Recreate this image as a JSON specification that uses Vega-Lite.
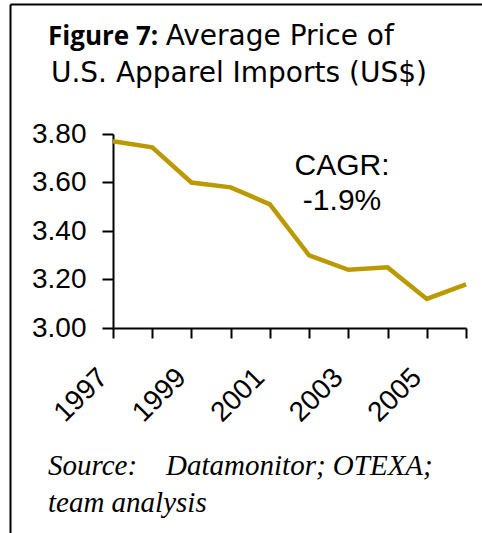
{
  "$schema": "https://vega.github.io/schema/vega-lite/v6.json",
  "width": 472,
  "height": 529,
  "padding": {"left": 10, "top": 4, "right": 0, "bottom": 0},
  "autosize": {"type": "none"},
  "background": "white",
  "config": {"view": {"stroke": null}},
  "layer": [
    {
      "data": {"values": [{"item": "title"}]},
      "layer": [
        {
          "mark": {"type": "text", "font": "Open Sans", "fontWeight": "bold", "fontSize": 26, "align": "left", "baseline": "alphabetic", "color": "black"},
          "encoding": {
            "x": {"datum": 8.05, "type": "quantitative", "scale": {"domain": [0, 100], "nice": false, "zero": false},
                  "axis": {"orient": "top", "offset": 0, "domain": true, "domainColor": "black", "domainWidth": 2, "ticks": false, "labels": false, "grid": false, "title": null}},
            "y": {"datum": 7.75, "type": "quantitative", "scale": {"domain": [0, 100], "reverse": true, "nice": false, "zero": false},
                  "axis": {"orient": "left", "offset": 0, "domain": true, "domainColor": "black", "domainWidth": 2, "ticks": false, "labels": false, "grid": false, "title": null}},
            "text": {"value": "Figure 7:"}
          }
        },
        {
          "mark": {"type": "text", "font": "DejaVu Sans", "fontSize": 28, "align": "left", "baseline": "alphabetic", "color": "black"},
          "encoding": {
            "x": {"datum": 33.0, "type": "quantitative"},
            "y": {"datum": 7.75, "type": "quantitative"},
            "text": {"value": "Average Price of"}
          }
        },
        {
          "mark": {"type": "text", "font": "DejaVu Sans", "fontSize": 28, "align": "center", "baseline": "alphabetic", "color": "black"},
          "encoding": {
            "x": {"datum": 48.5, "type": "quantitative"},
            "y": {"datum": 14.74, "type": "quantitative"},
            "text": {"value": "U.S. Apparel Imports (US$)"}
          }
        },
        {
          "mark": {"type": "text", "font": "Liberation Serif", "fontStyle": "italic", "fontSize": 29, "align": "left", "baseline": "alphabetic", "lineHeight": 37, "color": "black"},
          "encoding": {
            "x": {"datum": 8.05, "type": "quantitative"},
            "y": {"datum": 89.04, "type": "quantitative"},
            "text": {"value": ["Source:\u00a0\u00a0\u00a0 Datamonitor; OTEXA;", "team analysis"]}
          }
        }
      ]
    },
    {
      "layer": [
        {
          "data": {
            "values": [
              {"year": 1997, "price": 3.77},
              {"year": 1998, "price": 3.745},
              {"year": 1999, "price": 3.60},
              {"year": 2000, "price": 3.58},
              {"year": 2001, "price": 3.51},
              {"year": 2002, "price": 3.30},
              {"year": 2003, "price": 3.24},
              {"year": 2004, "price": 3.25},
              {"year": 2005, "price": 3.12},
              {"year": 2006, "price": 3.18}
            ]
          },
          "mark": {"type": "line", "color": "#BA9A00", "strokeWidth": 4.5},
          "encoding": {
            "x": {"field": "year", "type": "quantitative",
                  "scale": {"domain": [1997, 2006], "range": [103, 456], "nice": false, "zero": false},
                  "axis": {"orient": "bottom", "offset": -205, "values": [1997, 1998, 1999, 2000, 2001, 2002, 2003, 2004, 2005, 2006],
                           "labelExpr": "datum.value % 2 == 1 ? format(datum.value, 'd') : ''",
                           "labelAngle": -45, "labelAlign": "right", "labelBaseline": "middle",
                           "labelOffset": -10, "labelPadding": 35, "labelFont": "Liberation Sans", "labelFontSize": 28, "labelColor": "black",
                           "labelOverlap": false, "labelFlush": false, "labelBound": false,
                           "domainColor": "black", "domainWidth": 2, "tickColor": "black", "tickWidth": 2, "tickSize": 10,
                           "grid": false, "title": null}},
            "y": {"field": "price", "type": "quantitative",
                  "scale": {"domain": [3, 3.8], "range": [324, 130], "nice": false, "zero": false},
                  "axis": {"orient": "left", "offset": -103, "values": [3, 3.2, 3.4, 3.6, 3.8], "format": ".2f",
                           "labelFont": "Liberation Sans", "labelFontSize": 28, "labelColor": "black", "labelPadding": 16, "labelAlign": "right", "labelBaseline": "middle",
                           "labelOverlap": false, "labelFlush": false, "labelBound": false,
                           "domainColor": "black", "domainWidth": 2, "tickColor": "black", "tickWidth": 2, "tickSize": 11,
                           "grid": false, "title": null}}
          }
        },
        {
          "data": {"values": [{"item": "cagr"}]},
          "mark": {"type": "text", "font": "Liberation Sans", "fontSize": 30, "align": "center", "baseline": "alphabetic", "lineHeight": 35, "color": "black"},
          "encoding": {
            "x": {"datum": 2002.84, "type": "quantitative"},
            "y": {"datum": 3.631, "type": "quantitative"},
            "text": {"value": ["CAGR:", "-1.9%"]}
          }
        }
      ]
    }
  ],
  "resolve": {"scale": {"x": "independent", "y": "independent"}, "axis": {"x": "independent", "y": "independent"}}
}
